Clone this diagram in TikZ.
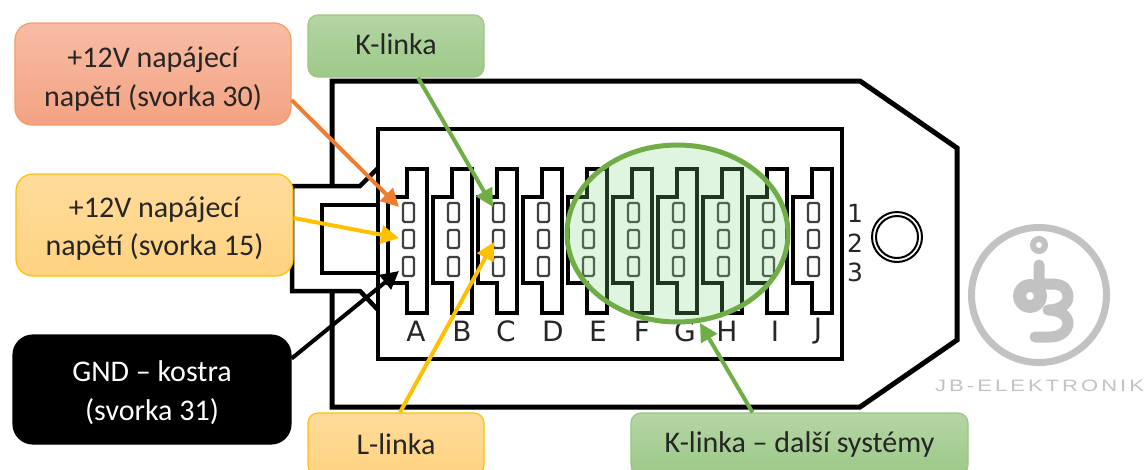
\documentclass[tikz,border=0pt]{standalone}
\usepackage{fontspec}
\setmainfont{Carlito}
\newfontfamily\dejavu{DejaVu Sans}
\newfontfamily\logofont[LetterSpace=14]{Liberation Sans}
\usetikzlibrary{arrows.meta,calc}
\definecolor{orline}{HTML}{ED7D31}
\definecolor{yeline}{HTML}{FFC000}
\definecolor{grline}{HTML}{70AD47}
\definecolor{logogray}{HTML}{C2C2C2}
\definecolor{ellfill}{RGB}{132,216,132}
\newcommand{\mvtext}[2]{\raisebox{#1}[\height][\depth]{#2}}
\tikzset{
  callout/.style={draw,line width=1.2pt,align=center,inner sep=0pt,text=black!85,font=\fontsize{30}{38.5}\selectfont},
  orbox/.style={callout,draw=orline!75,top color={rgb,255:red,247;green,188;blue,165},bottom color={rgb,255:red,244;green,162;blue,130},rounded corners=17pt},
  yebox/.style={callout,draw=yeline,top color={rgb,255:red,255;green,220;blue,156},bottom color={rgb,255:red,255;green,210;blue,127},rounded corners=17pt},
  grbox/.style={callout,draw=grline!70,top color={rgb,255:red,181;green,213;blue,165},bottom color={rgb,255:red,156;green,201;blue,136},rounded corners=10pt},
  blbox/.style={callout,draw=black,fill=black,text=white,rounded corners=20pt},
  ctr/.style={draw=black,line width=3.5pt,line join=miter},
  pinbox/.style={draw=black!75,line width=2.2pt,rounded corners=1.5pt},
  letter/.style={inner sep=0pt,text=black!85,font=\fontsize{28}{28}\dejavu},
  digit/.style={inner sep=0pt,text=black!85,font=\fontsize{25}{25}\dejavu},
  wire/.style={line width=4pt,-{Triangle[length=18pt,width=18pt]},shorten >=0pt},
  logoline/.style={draw=logogray,line cap=round,line join=round}
}
\begin{document}
\begin{tikzpicture}[x=1pt,y=-1pt]
\useasboundingbox (0,0) rectangle (1144,469);
\clip (0,0) rectangle (1144,469);
% body
\draw[line width=5pt,line join=miter] (332,186) -- (332,81) -- (860,81) -- (957,148) -- (957,340) -- (860,407) -- (332,407) -- (332,291);
\draw[line width=4.5pt,line join=miter] (378,168) -- (360,186) -- (292,186) -- (292,291) -- (360,291) -- (378,310);
\draw[line width=4pt,line join=miter] (378,205) -- (322,205) -- (322,273) -- (378,273);
\draw[line width=4pt,line join=miter] (378,129) rectangle (842,359);
% contacts
\foreach \x/\n in {407/A,452/B,497/C,542/D,587/E,632/F,677/G,722/H,767/I,812/J}{
  \draw[ctr] (\x,169) -- (\x+20,169) -- (\x+20,313) -- (\x,313) -- (\x,283) -- (\x-19,283) -- (\x-19,197) -- (\x,197) -- cycle;
  \foreach \yt/\yb in {203/222,230/248,257/276}{
    \draw[pinbox] (\x-4,\yt) rectangle (\x+7,\yb);
  }
}
% letters
\foreach \x/\n in {416/A,462/B,506/C,553/D,598/E,642/F,685/G,727/H,775/I,818/J}{
  \node[letter] (L\n) at (\x,331) {\n};
}
\node[digit] (d1) at (855,213) {1};
\node[digit] (d2) at (855,243) {2};
\node[digit] (d3) at (855,272) {3};
% mounting hole
\draw[line width=2pt] (897,237) circle (25);
\draw[line width=2pt] (897,237) circle (21);
% highlight
\fill[ellfill,fill opacity=.25] (677.5,233.5) ellipse (110.5 and 88.5);
\draw[grline,line width=5pt] (677.5,233.5) ellipse (110.5 and 88.5);
\coordinate (tipA1) at (399,207);
\coordinate (tipA2) at (399,238);
\coordinate (tipA3) at (399,271);
\coordinate (tipC1) at (493,207);
\coordinate (tipC2) at (494,242);
\coordinate (tipEll) at (700,323);
% callouts
\node[orbox,minimum width=276pt,minimum height=102pt] (b30) at (153,74) {\mvtext{-5pt}{+12V napájecí}\\\mvtext{-5pt}{napětí (svorka 30)}};
\node[yebox,minimum width=277pt,minimum height=102pt] (b15) at (154.5,225) {\mvtext{-3.5pt}{+12V napájecí}\\\mvtext{-3.5pt}{napětí (svorka 15)}};
\node[blbox,minimum width=278pt,minimum height=109pt] (b31) at (152,389.5) {\mvtext{-3pt}{GND – kostra}\\\mvtext{-3pt}{(svorka 31)}};
\node[grbox,minimum width=176pt,minimum height=62pt] (kl) at (396,46) {\mvtext{2pt}{K-linka}};
\node[yebox,rounded corners=10pt,minimum width=176pt,minimum height=62pt] (ll) at (396,444) {L-linka};
\node[grbox,minimum width=337pt,minimum height=62pt] (kd) at (799.5,444) {K-linka – další systémy};
% connectors
\draw[wire,orline] ([yshift=-26pt]b30.east) -- (tipA1);
\draw[wire,yeline] ([yshift=7pt]b15.east) -- (tipA2);
\draw[wire,black] ([yshift=31pt]b31.east) -- (tipA3);
\draw[wire,grline] ([xshift=22pt]kl.south) -- (tipC1);
\draw[wire,yeline] ([xshift=4pt]ll.north) -- (tipC2);
\draw[wire,grline] ([xshift=-47pt]kd.north) -- (tipEll);
% logo
\draw[logoline,line width=7pt] (1039,295) circle (67.5);
\draw[logoline,line width=6pt] (1039,245) circle (6);
\draw[logoline,line width=13pt] (1030,296) circle (10.5);
\draw[logoline,line width=11pt] (1039,265) -- (1039,296)
  (1039,284) -- (1052,284) .. controls (1064,284) and (1068,290) .. (1068,297) .. controls (1068,304) and (1060,310) .. (1048,310)
  .. controls (1060,310) and (1068,316) .. (1068,323) .. controls (1068,331) and (1060,337) .. (1050,337) -- (1035,337);
\node[inner sep=0pt,anchor=west,text=logogray] (logotext) at (935,386) {\scalebox{1.33}[1]{\fontsize{16.5}{16.5}\logofont JB-ELEKTRONIK}};
\end{tikzpicture}
\end{document}
